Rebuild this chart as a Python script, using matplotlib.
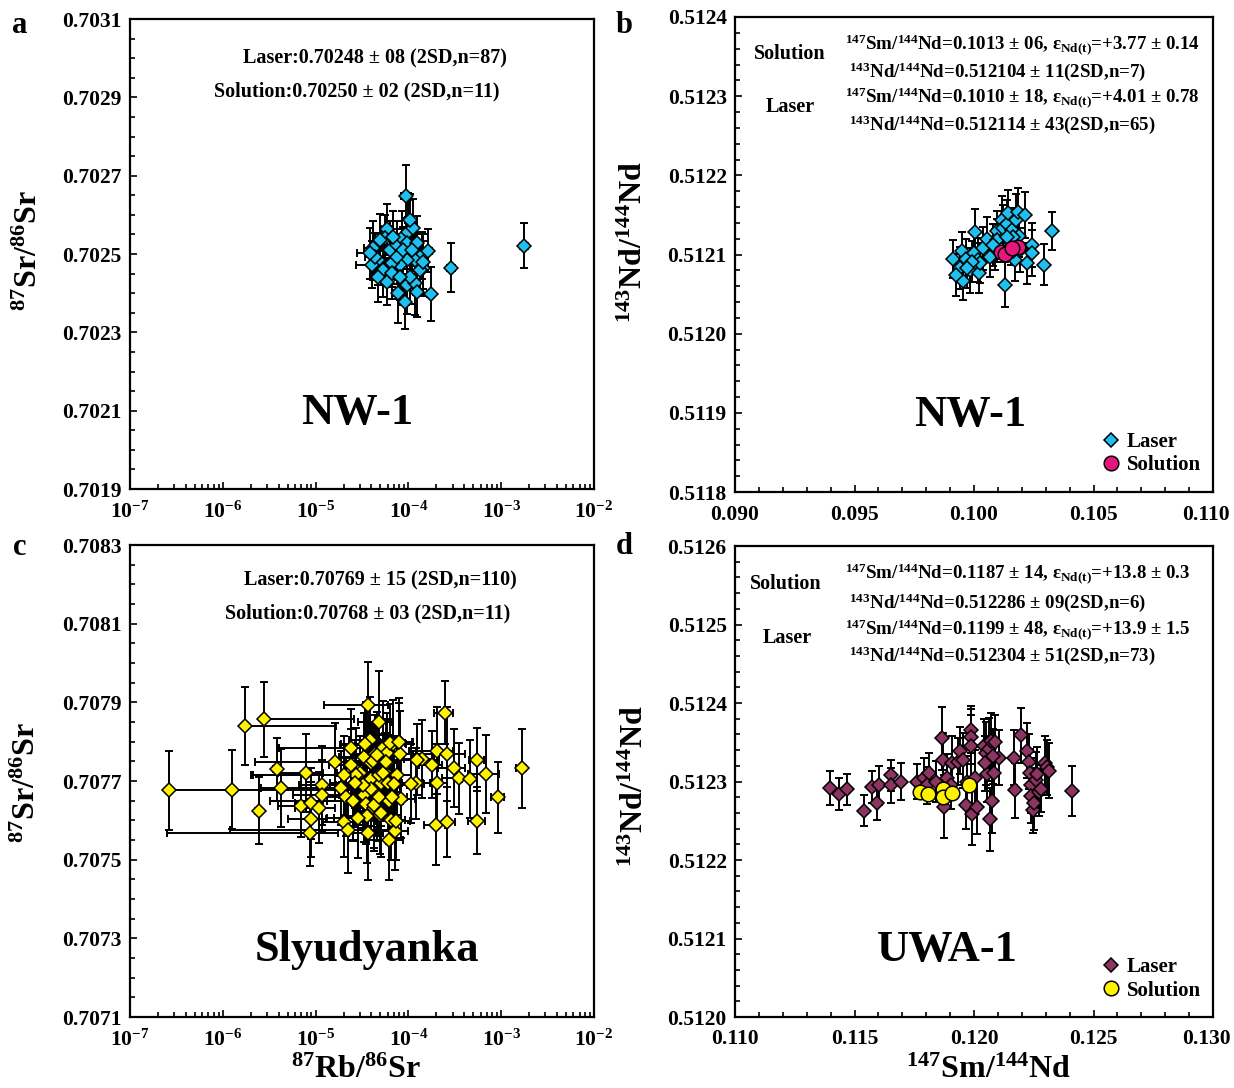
import numpy as np
import matplotlib
matplotlib.use("Agg")
import matplotlib.pyplot as plt
import matplotlib.transforms as mtransforms
from matplotlib.ticker import MultipleLocator, LogLocator, NullFormatter, FormatStrFormatter
from matplotlib.lines import Line2D

# --------------------------------------------------------------
#  fonts: Times-like bold everywhere, mathtext for the isotope superscripts
# --------------------------------------------------------------
plt.rcParams['font.family'] = 'Liberation Serif'
plt.rcParams['font.weight'] = 'bold'
plt.rcParams['mathtext.fontset'] = 'custom'
plt.rcParams['mathtext.rm'] = 'Liberation Serif:bold'
plt.rcParams['mathtext.it'] = 'Liberation Serif:bold'
plt.rcParams['mathtext.bf'] = 'Liberation Serif:bold'
plt.rcParams['mathtext.default'] = 'rm'

# --------------------------------------------------------------
#  DATA
# --------------------------------------------------------------
# a) NW-1, 87Rb/86Sr vs 87Sr/86Sr (laser)
a_x = [9.42e-5, 1.77e-3, 2.88e-4, 1.75e-4, 5.83e-5, 5.60e-5, 4.19e-5, 4.74e-5, 4.02e-5, 6.34e-5,
       7.48e-5, 8.47e-5, 9.98e-5, 1.13e-4, 9.73e-5, 1.23e-4, 1.39e-4, 1.64e-4, 1.45e-4, 1.18e-4,
       9.59e-5, 8.11e-5, 6.61e-5, 5.37e-5, 4.74e-5, 5.83e-5, 6.61e-5, 7.78e-5, 9.19e-5, 9.59e-5,
       1.18e-4, 1.23e-4, 1.04e-4, 1.33e-4, 8.11e-5, 7.48e-5, 4.94e-5, 8.81e-5, 1.08e-4, 6.87e-5,
       4.37e-5, 3.86e-5, 1.04e-4, 1.45e-4]
a_y = [0.702648, 0.702521, 0.702465, 0.702398, 0.702563, 0.702540, 0.702515, 0.702485, 0.702472, 0.702510,
       0.702523, 0.702540, 0.702557, 0.702566, 0.702527, 0.702527, 0.702497, 0.702508, 0.702463, 0.702485,
       0.702485, 0.702472, 0.702476, 0.702459, 0.702442, 0.702429, 0.702451, 0.702400, 0.702378, 0.702421,
       0.702425, 0.702404, 0.702442, 0.702459, 0.702442, 0.702493, 0.702536, 0.702510, 0.702510, 0.702544,
       0.702493, 0.702502, 0.702587, 0.702480]
a_xerr = [1.2e-5, 1.6e-4, 3.0e-5, 1.5e-5, 8.0e-6, 8.0e-6, 9.0e-6, 7.0e-6, 1.3e-5, 8.0e-6,
          9.0e-6, 1.0e-5, 1.2e-5, 1.2e-5, 1.0e-5, 1.2e-5, 1.4e-5, 1.5e-5, 1.4e-5, 1.2e-5,
          1.0e-5, 9.0e-6, 8.0e-6, 8.0e-6, 9.0e-6, 8.0e-6, 8.0e-6, 9.0e-6, 1.0e-5, 1.0e-5,
          1.2e-5, 1.2e-5, 1.1e-5, 1.3e-5, 9.0e-6, 9.0e-6, 8.0e-6, 1.0e-5, 1.1e-5, 8.0e-6,
          1.0e-5, 1.1e-5, 1.1e-5, 1.4e-5]
a_yerr = [7.8e-5, 5.8e-5, 6.2e-5, 7.0e-5, 6.5e-5, 6.0e-5, 7.0e-5, 6.5e-5, 6.0e-5, 7.5e-5,
          6.0e-5, 7.0e-5, 8.0e-5, 7.5e-5, 6.5e-5, 7.0e-5, 6.0e-5, 5.5e-5, 7.0e-5, 6.5e-5,
          7.0e-5, 6.5e-5, 6.0e-5, 7.0e-5, 6.5e-5, 6.0e-5, 6.5e-5, 7.5e-5, 7.0e-5, 7.5e-5,
          8.0e-5, 6.5e-5, 7.0e-5, 6.5e-5, 6.0e-5, 7.0e-5, 6.5e-5, 6.0e-5, 7.0e-5, 6.5e-5,
          6.0e-5, 6.5e-5, 6.5e-5, 7.0e-5]

# b) NW-1, 147Sm/144Nd vs 143Nd/144Nd
b_laser_x = [0.09911, 0.09949, 0.09955, 0.09967, 0.09983, 0.10004, 0.10000, 0.10021, 0.10018, 0.10039,
             0.10056, 0.10095, 0.10098, 0.10116, 0.10123, 0.10139, 0.10144, 0.10158, 0.10176, 0.10190,
             0.10185, 0.10213, 0.10130, 0.10172, 0.10221, 0.10241, 0.10241, 0.10294, 0.10325, 0.10088,
             0.10067, 0.10154, 0.10192, 0.10025, 0.09941, 0.09925, 0.09990, 0.09969, 0.10164, 0.10081,
             0.10137]
b_laser_y = [0.512094, 0.512104, 0.512067, 0.512094, 0.512080, 0.512128, 0.512102, 0.512077, 0.512093, 0.512108,
             0.512119, 0.512130, 0.512118, 0.512144, 0.512134, 0.512139, 0.512153, 0.512131, 0.512144, 0.512123,
             0.512154, 0.512150, 0.512062, 0.512093, 0.512089, 0.512112, 0.512102, 0.512087, 0.512130, 0.512106,
             0.512097, 0.512114, 0.512106, 0.512089, 0.512083, 0.512074, 0.512091, 0.512083, 0.512122, 0.512112,
             0.512122]
b_laser_yerr = [2.4e-5, 2.5e-5, 2.4e-5, 2.6e-5, 2.8e-5, 3.0e-5, 2.5e-5, 2.6e-5, 2.8e-5, 2.7e-5,
                2.8e-5, 2.5e-5, 2.7e-5, 3.0e-5, 2.8e-5, 3.0e-5, 2.9e-5, 2.8e-5, 3.2e-5, 2.6e-5,
                3.0e-5, 2.9e-5, 2.8e-5, 2.7e-5, 2.6e-5, 2.8e-5, 2.9e-5, 2.6e-5, 2.4e-5, 2.6e-5,
                2.5e-5, 2.7e-5, 2.8e-5, 2.5e-5, 2.6e-5, 2.7e-5, 2.6e-5, 2.5e-5, 2.8e-5, 2.6e-5,
                2.7e-5]
b_sol_x = [0.10112, 0.10148, 0.10185, 0.10130, 0.10158]
b_sol_y = [0.512103, 0.512104, 0.512109, 0.512101, 0.512108]

# c) Slyudyanka, 87Rb/86Sr vs 87Sr/86Sr (laser)
c_x = [2.64e-7, 1.26e-6, 1.73e-6, 2.44e-6, 2.81e-6, 3.80e-6, 4.20e-6, 6.98e-6, 7.94e-6, 9.02e-6,
       9.02e-6, 8.75e-6, 1.17e-5, 1.17e-5, 1.10e-5,
       1.62e-5, 1.86e-5, 2.01e-5, 2.11e-5, 2.22e-5, 2.40e-5, 2.40e-5, 2.52e-5, 2.63e-5, 2.84e-5,
       2.98e-5, 3.23e-5, 3.29e-5, 3.29e-5, 3.45e-5, 3.45e-5, 3.63e-5, 3.70e-5, 3.81e-5, 3.93e-5,
       4.00e-5, 4.21e-5, 4.42e-5, 4.64e-5, 4.78e-5, 4.97e-5, 5.12e-5, 5.37e-5, 5.64e-5, 5.93e-5,
       5.93e-5, 6.22e-5, 6.53e-5, 6.86e-5, 7.06e-5, 7.21e-5, 7.43e-5, 7.95e-5, 8.11e-5, 8.35e-5,
       6.22e-5, 4.87e-5, 2.70e-5, 2.01e-5, 4.00e-5, 7.57e-5,
       3.27e-5, 3.60e-5, 4.13e-5, 4.26e-5, 4.85e-5, 5.10e-5, 5.30e-5, 5.80e-5, 6.10e-5, 6.40e-5,
       6.60e-5, 7.00e-5, 2.64e-5, 2.86e-5, 2.54e-5, 4.55e-5, 3.40e-5, 7.90e-5, 1.21e-4, 1.40e-4,
       3.50e-4,
       1.07e-4, 1.24e-4, 1.79e-4, 2.02e-4, 2.02e-4, 1.98e-4, 2.45e-4, 2.58e-4, 2.58e-4, 3.07e-4,
       4.65e-4, 5.54e-4, 5.54e-4, 6.88e-4, 9.23e-4, 1.66e-3]
c_y = [0.707676, 0.707678, 0.707840, 0.707625, 0.707857, 0.707730, 0.707682, 0.707637, 0.707720, 0.707643,
       0.707603, 0.707569, 0.707689, 0.707664, 0.707632,
       0.707748, 0.707682, 0.707596, 0.707659, 0.707576, 0.707783, 0.707741, 0.707648, 0.707695, 0.707605,
       0.707720, 0.707689, 0.707762, 0.707664, 0.707791, 0.707641, 0.707892, 0.707569, 0.707804, 0.707705,
       0.707745, 0.707632, 0.707768, 0.707667, 0.707849, 0.707614, 0.707695, 0.707783, 0.707723, 0.707745,
       0.707772, 0.707650, 0.707600, 0.707795, 0.707691, 0.707573, 0.707598, 0.707798, 0.707768, 0.707655,
       0.707549, 0.707716, 0.707714, 0.707714, 0.707679, 0.707714,
       0.707690, 0.707612, 0.707750, 0.707640, 0.707660, 0.707618, 0.707720, 0.707748, 0.707696, 0.707796,
       0.707660, 0.707692, 0.707694, 0.707605, 0.707650, 0.707766, 0.707793, 0.707800, 0.707694, 0.707756,
       0.707707,
       0.707693, 0.707754, 0.707741, 0.707695, 0.707777, 0.707587, 0.707874, 0.707768, 0.707596, 0.707733,
       0.707705, 0.707754, 0.707599, 0.707718, 0.707659, 0.707732]
c_xerr = [2.6e-5, 1.0e-7, 1.5e-5, 2.0e-7, 2.3e-5, 3.0e-7, 3.0e-7, 3.0e-6, 4.0e-6, 3.0e-6,
          4.0e-6, 8.5e-6, 5.0e-6, 6.0e-6, 5.0e-6,
          1.4e-5, 1.6e-5, 8.0e-6, 9.0e-6, 2.1e-5, 2.0e-5, 1.0e-5, 2.2e-5, 1.2e-5, 1.5e-5,
          1.3e-5, 1.2e-5, 1.5e-5, 1.3e-5, 1.6e-5, 1.4e-5, 2.4e-5, 1.6e-5, 1.5e-5, 1.5e-5,
          1.6e-5, 1.7e-5, 1.8e-5, 1.8e-5, 1.9e-5, 2.0e-5, 2.0e-5, 2.1e-5, 2.2e-5, 2.3e-5,
          2.3e-5, 2.5e-5, 2.6e-5, 2.6e-5, 2.7e-5, 2.8e-5, 2.9e-5, 3.0e-5, 3.2e-5, 3.3e-5,
          2.5e-5, 2.0e-5, 2.5e-5, 1.8e-5, 1.6e-5, 3.0e-5,
          1.5e-5, 1.6e-5, 2.0e-5, 1.8e-5, 2.2e-5, 2.4e-5, 2.0e-5, 2.6e-5, 2.5e-5, 2.8e-5,
          3.0e-5, 2.9e-5, 1.2e-5, 1.3e-5, 1.2e-5, 2.0e-5, 1.5e-5, 3.2e-5, 5.0e-5, 5.0e-5,
          1.2e-4,
          4.0e-5, 9.0e-5, 5.0e-5, 6.0e-5, 1.0e-4, 5.0e-5, 5.5e-5, 1.5e-4, 6.0e-5, 1.0e-4,
          9.0e-5, 1.0e-4, 1.2e-4, 2.5e-4, 1.5e-4, 2.0e-4]
c_yerr = [1.0e-4, 1.0e-4, 1.0e-4, 8.5e-5, 9.5e-5, 8.0e-5, 1.0e-4, 8.0e-5, 1.0e-4, 9.0e-5,
          9.5e-5, 8.5e-5, 1.0e-4, 9.0e-5, 9.0e-5,
          1.0e-4, 9.5e-5, 9.0e-5, 1.0e-4, 1.1e-4, 1.0e-4, 9.0e-5, 1.0e-4, 1.1e-4, 1.0e-4,
          9.5e-5, 1.0e-4, 1.1e-4, 1.2e-4, 1.1e-4, 1.0e-4, 1.1e-4, 1.2e-4, 1.1e-4, 1.2e-4,
          1.0e-4, 1.1e-4, 1.0e-4, 1.2e-4, 1.3e-4, 1.0e-4, 1.1e-4, 1.2e-4, 1.0e-4, 1.1e-4,
          1.0e-4, 1.1e-4, 1.0e-4, 1.1e-4, 1.2e-4, 1.0e-4, 1.0e-4, 1.0e-4, 1.1e-4, 1.0e-4,
          1.0e-4, 1.0e-4, 1.2e-4, 1.0e-4, 1.1e-4, 1.0e-4,
          1.1e-4, 1.2e-4, 1.0e-4, 1.1e-4, 1.0e-4, 1.1e-4, 1.0e-4, 1.1e-4, 1.2e-4, 1.0e-4,
          1.1e-4, 1.0e-4, 1.1e-4, 1.0e-4, 1.0e-4, 1.1e-4, 1.0e-4, 1.1e-4, 9.0e-5, 1.0e-4,
          9.0e-5,
          1.0e-4, 9.0e-5, 8.5e-5, 1.0e-4, 1.1e-4, 1.0e-4, 8.0e-5, 1.2e-4, 9.0e-5, 1.0e-4,
          1.0e-4, 8.0e-5, 8.5e-5, 1.0e-4, 9.0e-5, 1.0e-4]

# d) UWA-1, 147Sm/144Nd vs 143Nd/144Nd
d_laser_x = [0.11396, 0.11435, 0.11468, 0.11538, 0.11574, 0.11594, 0.11601, 0.11651, 0.11654, 0.11696,
             0.11763, 0.11791, 0.11813, 0.11804, 0.11843, 0.11868, 0.11872, 0.11876, 0.11887, 0.11904,
             0.11909, 0.11932, 0.11942, 0.11956, 0.11967, 0.11971, 0.11987, 0.11987, 0.11987, 0.11991,
             0.12004, 0.12012, 0.12042, 0.12051, 0.12054, 0.12062, 0.12066, 0.12071, 0.12076, 0.12082,
             0.12087, 0.12104, 0.12166, 0.12170, 0.12195, 0.12220, 0.12229, 0.12234, 0.12237, 0.12240,
             0.12245, 0.12250, 0.12259, 0.12265, 0.12270, 0.12279, 0.12295, 0.12304, 0.12312, 0.12412,
             0.12046, 0.12079]
d_laser_y = [0.512292, 0.512284, 0.512290, 0.512263, 0.512293, 0.512273, 0.512295, 0.512308, 0.512295, 0.512300,
             0.512300, 0.512305, 0.512311, 0.512295, 0.512300, 0.512355, 0.512327, 0.512268, 0.512305, 0.512295,
             0.512323, 0.512325, 0.512339, 0.512327, 0.512270, 0.512300, 0.512366, 0.512357, 0.512345, 0.512259,
             0.512305, 0.512268, 0.512345, 0.512336, 0.512309, 0.512341, 0.512252, 0.512352, 0.512275, 0.512311,
             0.512350, 0.512330, 0.512330, 0.512289, 0.512359, 0.512339, 0.512325, 0.512311, 0.512295, 0.512282,
             0.512264, 0.512273, 0.512302, 0.512309, 0.512286, 0.512291, 0.512323, 0.512318, 0.512314, 0.512288,
             0.512323, 0.512332]
d_laser_yerr = [2.2e-5, 2.0e-5, 2.0e-5, 2.0e-5, 2.0e-5, 2.2e-5, 2.5e-5, 2.0e-5, 2.2e-5, 2.3e-5,
                2.2e-5, 2.5e-5, 2.5e-5, 2.4e-5, 2.6e-5, 4.0e-5, 3.5e-5, 4.0e-5, 3.0e-5, 3.0e-5,
                3.5e-5, 3.0e-5, 3.0e-5, 3.5e-5, 3.0e-5, 3.2e-5, 3.0e-5, 3.5e-5, 4.0e-5, 4.0e-5,
                3.5e-5, 3.5e-5, 3.5e-5, 4.0e-5, 3.5e-5, 4.0e-5, 4.0e-5, 3.5e-5, 4.0e-5, 3.5e-5,
                3.5e-5, 3.5e-5, 3.5e-5, 3.5e-5, 3.5e-5, 3.5e-5, 3.5e-5, 3.0e-5, 3.5e-5, 3.5e-5,
                3.0e-5, 3.5e-5, 3.5e-5, 3.5e-5, 3.0e-5, 3.0e-5, 3.5e-5, 3.5e-5, 3.5e-5, 3.2e-5,
                3.5e-5, 3.5e-5]
d_sol_x = [0.11776, 0.11808, 0.11871, 0.11872, 0.11907, 0.11979]
d_sol_y = [0.512286, 0.512284, 0.512290, 0.512280, 0.512285, 0.512295]

# axis tick labels / ranges
sr_a_ticks = [0.7019, 0.7021, 0.7023, 0.7025, 0.7027, 0.7029, 0.7031]
sr_c_ticks = [0.7071, 0.7073, 0.7075, 0.7077, 0.7079, 0.7081, 0.7083]
nd_b_ticks = [0.5118, 0.5119, 0.5120, 0.5121, 0.5122, 0.5123, 0.5124]
nd_d_ticks = [0.5120, 0.5121, 0.5122, 0.5123, 0.5124, 0.5125, 0.5126]
smnd_b_ticks = [0.090, 0.095, 0.100, 0.105, 0.110]
smnd_d_ticks = [0.110, 0.115, 0.120, 0.125, 0.130]

# colours
CYAN = '#1FBFEF'
PINK = '#E8167C'
YELLOW = '#FFF200'
PLUM = '#8C3563'

W, H = 1234, 1088
DMS = 7.6    # diamond marker size
CMS = 10.5   # circle marker size


def px(x, y):
    """pixel position (top-left origin) -> figure fraction"""
    return x / W, 1 - y / H


def style_axis(ax):
    for s in ax.spines.values():
        s.set_linewidth(1.6)
    ax.tick_params(which='both', direction='in', top=False, right=False,
                   labelsize=15.5, width=1.2)
    ax.tick_params(which='major', length=5)
    ax.tick_params(which='minor', length=3.5)
    ax.tick_params(axis='x', pad=9)
    ax.tick_params(axis='y', pad=6)


def clipped_log_err(x, err):
    # lower arm not drawn when it would go below zero (as in the original plots)
    x = np.asarray(x)
    err = np.asarray(err)
    lo = np.where(err >= x, 0.0, err)
    return [lo, err]


EB = dict(fmt='none', ecolor='black', elinewidth=1.4, capsize=2.8, capthick=1.4, zorder=2)

fig = plt.figure(figsize=(W / 100, H / 100), dpi=100)

ax_a = fig.add_axes([130 / W, 1 - 489 / H, 464 / W, 470 / H])
ax_b = fig.add_axes([735 / W, 1 - 492 / H, 478 / W, 475 / H])
ax_c = fig.add_axes([130 / W, 1 - 1017 / H, 464 / W, 472 / H])
ax_d = fig.add_axes([735 / W, 1 - 1017 / H, 478 / W, 471 / H])

# ---- a ----
ax_a.set_xscale('log')
ax_a.errorbar(a_x, a_y, xerr=clipped_log_err(a_x, a_xerr), yerr=a_yerr, **EB)
ax_a.plot(a_x, a_y, 'D', ms=DMS, mfc=CYAN, mec='black', mew=1.1, zorder=3)
ax_a.set_xlim(1e-7, 1e-2)
ax_a.set_ylim(sr_a_ticks[0], sr_a_ticks[-1])
ax_a.set_yticks(sr_a_ticks)
ax_a.yaxis.set_minor_locator(MultipleLocator(0.00005))
ax_a.yaxis.set_major_formatter(FormatStrFormatter('%.4f'))

# ---- b ----
ax_b.errorbar(b_laser_x, b_laser_y, yerr=b_laser_yerr, **EB)
ax_b.plot(b_laser_x, b_laser_y, 'D', ms=DMS, mfc=CYAN, mec='black', mew=1.1, zorder=3)
ax_b.plot(b_sol_x, b_sol_y, 'o', ms=CMS, mfc=PINK, mec='black', mew=1.1, zorder=4)
ax_b.set_xlim(smnd_b_ticks[0], smnd_b_ticks[-1])
ax_b.set_ylim(nd_b_ticks[0], nd_b_ticks[-1])
ax_b.set_xticks(smnd_b_ticks)
ax_b.set_yticks(nd_b_ticks)
ax_b.xaxis.set_minor_locator(MultipleLocator(0.001))
ax_b.yaxis.set_minor_locator(MultipleLocator(0.00002))
ax_b.xaxis.set_major_formatter(FormatStrFormatter('%.3f'))
ax_b.yaxis.set_major_formatter(FormatStrFormatter('%.4f'))

# ---- c ----
ax_c.set_xscale('log')
ax_c.errorbar(c_x, c_y, xerr=clipped_log_err(c_x, c_xerr), yerr=c_yerr, **EB)
ax_c.plot(c_x, c_y, 'D', ms=DMS, mfc=YELLOW, mec='black', mew=1.1, zorder=3)
ax_c.set_xlim(1e-7, 1e-2)
ax_c.set_ylim(sr_c_ticks[0], sr_c_ticks[-1])
ax_c.set_yticks(sr_c_ticks)
ax_c.yaxis.set_minor_locator(MultipleLocator(0.00005))
ax_c.yaxis.set_major_formatter(FormatStrFormatter('%.4f'))

# ---- d ----
ax_d.errorbar(d_laser_x, d_laser_y, yerr=d_laser_yerr, **EB)
ax_d.plot(d_laser_x, d_laser_y, 'D', ms=DMS, mfc=PLUM, mec='black', mew=1.1, zorder=3)
ax_d.plot(d_sol_x, d_sol_y, 'o', ms=CMS, mfc=YELLOW, mec='black', mew=1.1, zorder=4)
ax_d.set_xlim(smnd_d_ticks[0], smnd_d_ticks[-1])
ax_d.set_ylim(nd_d_ticks[0], nd_d_ticks[-1])
ax_d.set_xticks(smnd_d_ticks)
ax_d.set_yticks(nd_d_ticks)
ax_d.xaxis.set_minor_locator(MultipleLocator(0.001))
ax_d.yaxis.set_minor_locator(MultipleLocator(0.00002))
ax_d.xaxis.set_major_formatter(FormatStrFormatter('%.3f'))
ax_d.yaxis.set_major_formatter(FormatStrFormatter('%.4f'))

for ax in (ax_a, ax_c):
    ax.xaxis.set_major_locator(LogLocator(base=10, numticks=10))
    ax.xaxis.set_minor_locator(LogLocator(base=10, subs=np.arange(2, 10), numticks=20))
    ax.xaxis.set_minor_formatter(NullFormatter())

for ax in (ax_a, ax_b, ax_c, ax_d):
    style_axis(ax)

# the last x tick label sits right at the image edge: nudge it inwards a little
nudge = mtransforms.ScaledTranslation(-7 / 100, 0, fig.dpi_scale_trans)
for ax in (ax_b, ax_d):
    last = ax.get_xticklabels()[-1]
    last.set_transform(last.get_transform() + nudge)

# ---- axis titles ----
sr_label = r'$^{87}$Sr/$^{86}$Sr'
nd_label = r'$^{143}$Nd/$^{144}$Nd'
fig.text(*px(29, 250), sr_label, rotation=90, ha='center', va='center', fontsize=23)
fig.text(*px(634, 242), nd_label, rotation=90, ha='center', va='center', fontsize=23)
fig.text(*px(27, 782), sr_label, rotation=90, ha='center', va='center', fontsize=23)
fig.text(*px(635, 786), nd_label, rotation=90, ha='center', va='center', fontsize=23)
fig.text(*px(356, 1070), r'$^{87}$Rb/$^{86}$Sr', ha='center', va='center', fontsize=23)
fig.text(*px(989, 1070), r'$^{147}$Sm/$^{144}$Nd', ha='center', va='center', fontsize=23)

# ---- panel letters ----
for lab, (x, y) in zip('abcd', [(20, 33), (624, 33), (20, 555), (624, 554)]):
    fig.text(*px(x, y), lab, ha='center', va='baseline', fontsize=22)

# ---- sample names ----
fig.text(*px(357, 413), 'NW-1', ha='center', va='center', fontsize=32)
fig.text(*px(970, 415), 'NW-1', ha='center', va='center', fontsize=32)
fig.text(*px(367, 950), 'Slyudyanka', ha='center', va='center', fontsize=32)
fig.text(*px(947, 950), 'UWA-1', ha='center', va='center', fontsize=32)

# ---- summary statistics ----
fig.text(*px(375, 58), 'Laser:0.70248 ± 08 (2SD,n=87)', ha='center', va='center', fontsize=14.5)
fig.text(*px(357, 91), 'Solution:0.70250 ± 02 (2SD,n=11)', ha='center', va='center', fontsize=14.5)
fig.text(*px(380, 580), 'Laser:0.70769 ± 15 (2SD,n=110)', ha='center', va='center', fontsize=14.5)
fig.text(*px(368, 613), 'Solution:0.70768 ± 03 (2SD,n=11)', ha='center', va='center', fontsize=14.5)

b_lines = [r'$^{147}$Sm/$^{144}$Nd=0.1013 ± 06, ε$_{\rm Nd(t)}$=+3.77 ± 0.14',
           r'$^{143}$Nd/$^{144}$Nd=0.512104 ± 11(2SD,n=7)',
           r'$^{147}$Sm/$^{144}$Nd=0.1010 ± 18, ε$_{\rm Nd(t)}$=+4.01 ± 0.78',
           r'$^{143}$Nd/$^{144}$Nd=0.512114 ± 43(2SD,n=65)']
d_lines = [r'$^{147}$Sm/$^{144}$Nd=0.1187 ± 14, ε$_{\rm Nd(t)}$=+13.8 ± 0.3',
           r'$^{143}$Nd/$^{144}$Nd=0.512286 ± 09(2SD,n=6)',
           r'$^{147}$Sm/$^{144}$Nd=0.1199 ± 48, ε$_{\rm Nd(t)}$=+13.9 ± 1.5',
           r'$^{143}$Nd/$^{144}$Nd=0.512304 ± 51(2SD,n=73)']
for txt, (x, y) in zip(b_lines, [(845, 45), (849, 72), (845, 98), (849, 125)]):
    fig.text(*px(x, y), txt, ha='left', va='center', fontsize=13.6)
for txt, (x, y) in zip(d_lines, [(845, 574), (849, 603), (845, 630), (849, 656)]):
    fig.text(*px(x, y), txt, ha='left', va='center', fontsize=13.6)
fig.text(*px(790, 54), 'Solution', ha='center', va='center', fontsize=14.5)
fig.text(*px(790, 107), 'Laser', ha='center', va='center', fontsize=14.5)
fig.text(*px(786, 584), 'Solution', ha='center', va='center', fontsize=14.5)
fig.text(*px(787, 638), 'Laser', ha='center', va='center', fontsize=14.5)

# ---- legends ----
for ax, lc, sc in ((ax_b, CYAN, PINK), (ax_d, PLUM, YELLOW)):
    handles = [Line2D([], [], ls='none', marker='D', ms=DMS, mfc=lc, mec='black', mew=1.1),
               Line2D([], [], ls='none', marker='o', ms=CMS, mfc=sc, mec='black', mew=1.1)]
    ax.legend(handles, ['Laser', 'Solution'], loc='lower right', bbox_to_anchor=(0.975, 0.035),
              frameon=False, fontsize=15, handlelength=0.8, handletextpad=0.35,
              labelspacing=0.15, borderpad=0.0, borderaxespad=0.0)

fig.savefig('out.png', dpi=100)
